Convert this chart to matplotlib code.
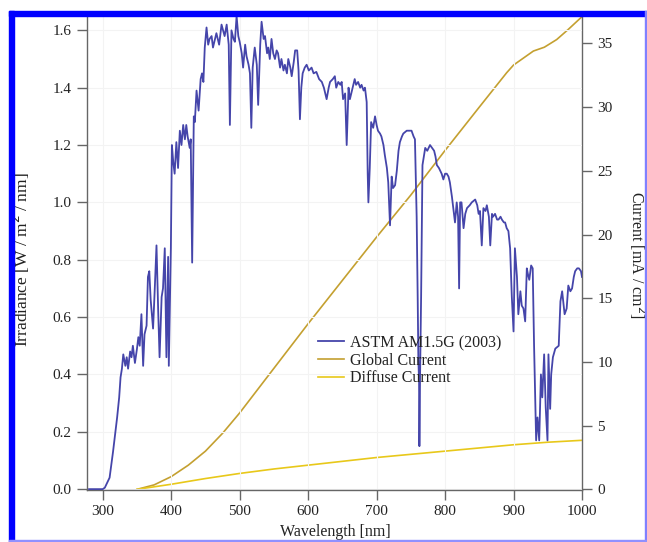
import matplotlib
matplotlib.use('Agg')
import matplotlib.pyplot as plt
from matplotlib.patches import Rectangle

# ASTM AM1.5G spectrum (nm, W/m^2/nm)
wavelength = [
    280, 290, 300, 303, 306, 310, 315, 318, 321, 324, 326, 328, 330, 333, 335, 337, 340, 342, 344, 347,
    350, 352, 354, 356.5, 359, 361, 364, 366, 368, 370, 373.5, 376, 378.5, 381, 383, 386, 388, 390.6,
    393, 395.5, 396.5, 399.5, 401, 403, 405, 407.5, 410, 412.6, 415, 417.5, 420, 422, 424, 427, 428.5,
    430.6, 433, 434.5, 437, 440, 443, 445, 447, 449, 451.6, 454, 456, 459, 461, 463, 466, 470, 473.5,
    478, 481, 484, 485.7, 488, 491, 493, 495.5, 498, 500, 503, 505, 508, 510, 513, 515, 517, 519, 522,
    525, 527, 530, 532, 535, 537, 540, 541.7, 544, 546.5, 549, 551.5, 554, 556, 559, 561, 564, 566, 569,
    571, 574, 576, 579, 581, 584, 586, 588, 590, 592, 595, 597.8, 601, 605, 608, 612, 616, 620, 623, 627,
    630, 632, 636, 639, 641, 644, 647, 649, 651, 654, 656.3, 659, 661, 663, 666, 668, 670, 673, 676, 678,
    681, 683, 685.5, 687, 688, 690, 692, 695, 697.7, 700, 702, 705, 707, 710, 712, 715, 717, 719.6, 722,
    724, 727, 729.5, 732, 734, 737, 739, 744, 748, 751, 754, 756, 758.5, 760, 761, 762, 762.5, 763.5, 765,
    767, 771, 774, 778, 781, 784, 786, 788, 791, 793, 795, 797.5, 800, 802.5, 805, 807, 810, 812, 814.5,
    817, 819, 820.5, 822, 824, 827, 829.5, 832, 836, 839, 844, 847, 849, 851, 853.6, 856, 859, 861, 864,
    866, 868.5, 870, 873, 876, 878, 881, 883, 886, 887.7, 890, 892.5, 895, 897.5, 900, 902, 905, 907, 910,
    912, 914.5, 917, 919.4, 921, 923, 925.7, 928, 930, 933, 935, 937.5, 940, 942, 944.7, 947, 949.6, 951,
    953.5, 955, 957.5, 961, 966, 968.5, 971, 974.6, 977.6, 980, 983, 985.5, 988, 990, 993, 995.5, 998.5,
    1000,
]
irradiance = [
    0.0, 0.0, 0.0, 0.005, 0.02, 0.04, 0.13, 0.19, 0.25, 0.32, 0.39, 0.42, 0.47, 0.43, 0.46, 0.42, 0.48,
    0.46, 0.50, 0.44, 0.49, 0.53, 0.50, 0.61, 0.43, 0.54, 0.57, 0.74, 0.76, 0.66, 0.56, 0.70, 0.85, 0.62,
    0.46, 0.67, 0.70, 0.84, 0.46, 0.81, 0.43, 0.84, 1.20, 1.14, 1.10, 1.21, 1.12, 1.25, 1.20, 1.27, 1.22,
    1.27, 1.23, 1.19, 1.22, 0.79, 1.30, 1.28, 1.39, 1.32, 1.43, 1.45, 1.42, 1.54, 1.61, 1.55, 1.57, 1.58,
    1.54, 1.56, 1.59, 1.55, 1.62, 1.58, 1.62, 1.55, 1.27, 1.60, 1.57, 1.56, 1.65, 1.58, 1.56, 1.52, 1.47,
    1.55, 1.51, 1.48, 1.45, 1.26, 1.47, 1.54, 1.48, 1.34, 1.55, 1.63, 1.57, 1.58, 1.52, 1.54, 1.50, 1.57,
    1.52, 1.50, 1.53, 1.52, 1.47, 1.50, 1.46, 1.48, 1.45, 1.50, 1.47, 1.44, 1.49, 1.53, 1.53, 1.46, 1.29,
    1.40, 1.45, 1.47, 1.48, 1.46, 1.47, 1.45, 1.455, 1.43, 1.42, 1.40, 1.36, 1.40, 1.42, 1.43, 1.44, 1.40,
    1.42, 1.41, 1.42, 1.36, 1.38, 1.20, 1.40, 1.36, 1.38, 1.41, 1.43, 1.41, 1.42, 1.40, 1.41, 1.39, 1.40,
    1.35, 1.10, 1.00, 1.12, 1.28, 1.26, 1.30, 1.27, 1.25, 1.24, 1.23, 1.20, 1.165, 1.12, 1.07, 0.92, 1.09,
    1.05, 1.06, 1.11, 1.18, 1.21, 1.23, 1.24, 1.25, 1.25, 1.25, 1.23, 1.22, 0.95, 0.67, 0.45, 0.38, 0.15,
    0.40, 0.67, 1.13, 1.19, 1.18, 1.20, 1.19, 1.18, 1.16, 1.13, 1.12, 1.11, 1.10, 1.08, 1.10, 1.10, 1.09,
    1.07, 1.02, 0.98, 0.93, 1.00, 0.95, 0.70, 1.00, 1.00, 0.91, 0.96, 0.98, 0.99, 1.00, 1.01, 0.99, 0.96,
    0.97, 0.85, 0.98, 0.97, 0.99, 0.95, 0.85, 0.96, 0.95, 0.96, 0.94, 0.94, 0.95, 0.94, 0.93, 0.93, 0.91,
    0.90, 0.84, 0.67, 0.55, 0.84, 0.74, 0.61, 0.69, 0.64, 0.63, 0.585, 0.77, 0.75, 0.73, 0.78, 0.77, 0.50,
    0.17, 0.25, 0.17, 0.40, 0.32, 0.47, 0.285, 0.17, 0.47, 0.28, 0.40, 0.46, 0.49, 0.50, 0.655, 0.69, 0.61,
    0.63, 0.71, 0.69, 0.70, 0.74, 0.76, 0.77, 0.77, 0.76, 0.74,
]

# integrated photocurrent (mA/cm^2)
current_wl = [350, 375, 400, 425, 450, 475, 500, 550, 600, 650, 700, 750, 800, 850, 890, 900, 929, 945, 963, 980, 1000]
global_current = [0.0, 0.35, 1.0, 1.9, 3.0, 4.4, 6.0, 9.5, 13.0, 16.4, 19.8, 23.1, 26.6, 30.0, 32.7, 33.3, 34.4, 34.7, 35.3, 36.1, 37.1]
diffuse_wl = [350, 400, 450, 500, 550, 600, 650, 700, 750, 800, 850, 900, 950, 1000]
diffuse_current = [0.0, 0.4, 0.85, 1.25, 1.6, 1.9, 2.2, 2.5, 2.75, 3.0, 3.25, 3.5, 3.7, 3.85]

xticks = [300, 400, 500, 600, 700, 800, 900, 1000]
yticks = [0.0, 0.2, 0.4, 0.6, 0.8, 1.0, 1.2, 1.4, 1.6]
yticks2 = [0, 5, 10, 15, 20, 25, 30, 35]

plt.rcParams['font.family'] = ['Liberation Serif', 'DejaVu Serif']
plt.rcParams['font.size'] = 11

spec_color = '#4545aa'
glob_color = '#c4a030'
diff_color = '#e8c81a'
spine_color = '#666666'
text_color = '#222222'

fig = plt.figure(figsize=(6.47, 5.42), dpi=100)
ax = fig.add_axes([87 / 647, 52 / 542, 495 / 647, 474 / 542])
ax2 = ax.twinx()

l1, = ax.plot(wavelength, irradiance, color=spec_color, lw=1.3, zorder=3)
l2, = ax2.plot(current_wl, global_current, color=glob_color, lw=1.2)
l3, = ax2.plot(diffuse_wl, diffuse_current, color=diff_color, lw=1.2)

ax.set_xlim(277, 1000)
ax.set_ylim(-0.003, 1.65)
ax2.set_ylim(-0.05, 37.15)
ax.set_xticks(xticks)
ax.set_yticks(yticks)
ax.set_yticklabels([f'{v:.1f}' for v in yticks])
ax2.set_yticks(yticks2)

ax.grid(True, color='#f3f3f3', lw=0.8)
ax.set_axisbelow(True)
ax.set_zorder(ax2.get_zorder() + 1)
ax.patch.set_visible(False)

for a in (ax, ax2):
    a.spines['top'].set_visible(False)
    for s in ('left', 'right', 'bottom'):
        a.spines[s].set_color(spine_color)
        a.spines[s].set_linewidth(1.0)
    a.tick_params(direction='out', length=7, width=1.0, color=spine_color,
                  labelcolor=text_color, pad=4)
ax.spines['right'].set_visible(False)
ax2.spines['left'].set_visible(False)
ax2.spines['bottom'].set_visible(False)

fig.text(21 / 647, 1 - 260 / 542, 'Irradiance [W / m$^2$ / nm]', rotation=90,
         ha='center', va='center', color=text_color, fontsize=12.5)
fig.text(637 / 647, 1 - 255 / 542, 'Current [mA / cm$^2$]', rotation=270,
         ha='center', va='center', color=text_color, fontsize=11.5)
fig.text(335 / 647, 2.5 / 542, 'Wavelength [nm]', ha='center', va='bottom',
         color=text_color, fontsize=11.5)

ax.legend([l1, l2, l3], ['ASTM AM1.5G (2003)', 'Global Current', 'Diffuse Current'],
          loc='upper left', bbox_to_anchor=(318 / 647, 1 - 335 / 542),
          bbox_transform=fig.transFigure, frameon=False, borderpad=0,
          borderaxespad=0, handlelength=1.6, handletextpad=0.4, labelspacing=0.1,
          fontsize=11.5, labelcolor=text_color)

# frame around the figure
fig.patches.extend([
    Rectangle((9 / 647, 1 - 16 / 542), 638 / 647, 5 / 542, transform=fig.transFigure,
              color='#0000ff', zorder=10),
    Rectangle((9 / 647, 0), 5 / 647, 531 / 542, transform=fig.transFigure,
              color='#0000ff', zorder=10),
    Rectangle((644.5 / 647, 0), 1.5 / 647, 531 / 542, transform=fig.transFigure,
              color='#8080ff', zorder=10),
    Rectangle((9 / 647, 0.5 / 542), 637 / 647, 1.5 / 542, transform=fig.transFigure,
              color='#9090ff', zorder=10),
])

fig.savefig('out.png', dpi=100)
